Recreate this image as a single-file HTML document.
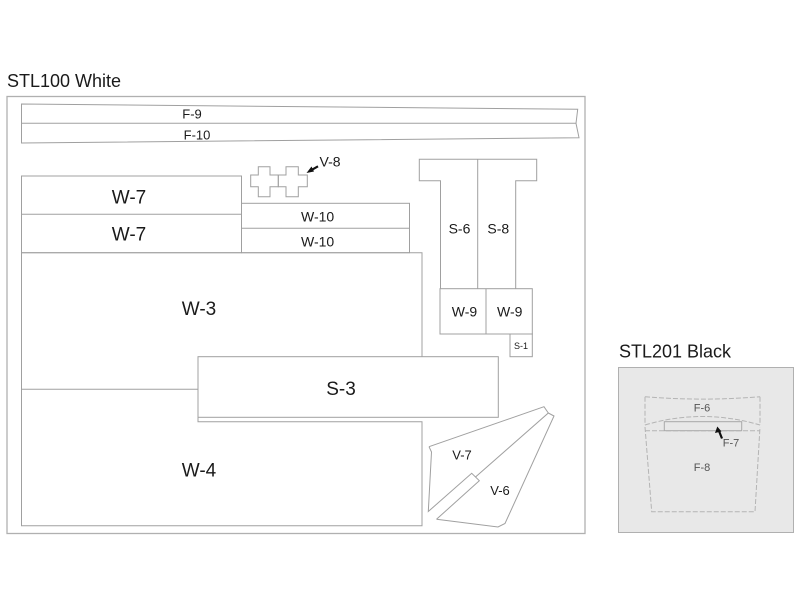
<!DOCTYPE html>
<html><head><meta charset="utf-8"><style>
html,body{margin:0;padding:0;background:#fff;}
svg{display:block;}
text{font-family:"Liberation Sans",Arial,sans-serif;fill:#1a1a1a;}
</style></head><body>
<svg width="804" height="603" viewBox="0 0 804 603" xmlns="http://www.w3.org/2000/svg">
<rect x="0" y="0" width="804" height="603" fill="#fff"/>
<text x="7" y="87" font-size="18">STL100 White</text>
<!-- outer border -->
<rect x="7" y="96.5" width="578" height="437" fill="none" stroke="#b0b0b0" stroke-width="1.3"/>
<g fill="none" stroke="#a0a0a0" stroke-width="1">
<!-- F-9 / F-10 strip -->
<path d="M21.5,104 L577.7,109.3 L576,123.3 L579,137.7 L21.5,143 Z"/>
<path d="M21.5,123.3 L576,123.3"/>
<!-- W-7 -->
<rect x="21.5" y="176" width="220" height="76.7"/>
<path d="M21.5,214.3 H241.5"/>
<!-- W-10 -->
<rect x="241.5" y="203.3" width="168" height="49.4"/>
<path d="M241.5,228.3 H409.5"/>
<!-- crosses V-8 -->
<path d="M258.3,166.7 H270 V175 H278.3 V186.7 H270 V196.7 H258.3 V186.7 H250.7 V175 H258.3 Z"/>
<path d="M286,166.7 H298.3 V175 H307.3 V186.7 H298.3 V196.7 H286 V186.7 H278.3 V175 H286 Z"/>
<!-- T shape S-6 / S-8 -->
<path d="M440.5,288.7 V180.7 H419.3 V159.3 H536.7 V180.7 H515.7 V288.7"/>
<path d="M477.7,159.3 V288.7"/>
<!-- W-9 -->
<rect x="440" y="288.7" width="92.3" height="45.3"/>
<path d="M486,288.7 V334"/>
<!-- S-1 -->
<rect x="510" y="334" width="22.3" height="22.7"/>
<!-- W-3 -->
<path d="M21.5,252.7 H422 V356.7"/>
<path d="M21.5,389.3 H198"/>
<!-- left edge W-3/W-4 -->
<path d="M21.5,252.7 V525.7 H422 V421.7 H198 V417.3"/>
<!-- S-3 -->
<rect x="198" y="356.7" width="300.3" height="60.6"/>
<!-- V-7 -->
<path d="M429,446.7 L544,406.7 L548.3,413 L475.5,477"/>
<path d="M429,446.7 L431.5,452 L428.3,511.5 L471.7,473.3 L479.3,480.7 L436.5,519.3"/>
<!-- V-6 -->
<path d="M548.3,413 L554,416 L505,523.5 L498,527 L436.5,519.3"/>
</g>
<!-- labels STL100 -->
<g text-anchor="middle">
<text x="192" y="118.5" font-size="13">F-9</text>
<text x="197" y="139.5" font-size="13">F-10</text>
<text x="129" y="203.5" font-size="19">W-7</text>
<text x="129" y="240.5" font-size="19">W-7</text>
<text x="317.6" y="221.5" font-size="14">W-10</text>
<text x="317.6" y="246.5" font-size="14">W-10</text>
<text x="459.5" y="233.5" font-size="14">S-6</text>
<text x="498.3" y="233.5" font-size="14">S-8</text>
<text x="464.5" y="316.5" font-size="14">W-9</text>
<text x="509.7" y="316.5" font-size="14">W-9</text>
<text x="521" y="349.2" font-size="9">S-1</text>
<text x="199" y="315" font-size="19">W-3</text>
<text x="341" y="395" font-size="19">S-3</text>
<text x="199" y="476.7" font-size="19">W-4</text>
<text x="462" y="459.5" font-size="13">V-7</text>
<text x="500" y="495.2" font-size="13">V-6</text>
</g>
<text x="319.5" y="166.5" font-size="14">V-8</text>
<!-- V-8 arrow -->
<line x1="318" y1="166.3" x2="311" y2="170.3" stroke="#111" stroke-width="2.2"/>
<polygon points="306.5,173 311.5,166.5 314,171.5" fill="#111"/>

<!-- STL201 Black -->
<text x="619" y="357.3" font-size="18">STL201 Black</text>
<rect x="618.5" y="367.5" width="175" height="165" fill="#e8e8e8" stroke="#b0b0b0" stroke-width="1"/>
<g fill="none" stroke="#b4b4b4" stroke-width="1" stroke-dasharray="5,2">
<path d="M645,396.7 Q702,401.5 760,396.7"/>
<path d="M645,396.7 V425"/>
<path d="M760,396.7 V425"/>
<path d="M645,425 Q702,408 760,425"/>
<path d="M645,427 L651.7,511.7 L755,511.7 L760,427"/>
<path d="M645,430.7 H760"/>
</g>
<rect x="664.3" y="421.7" width="77.4" height="9" fill="#e8e8e8" stroke="#a8a8a8" stroke-width="1"/>
<g text-anchor="middle" font-size="11">
<text x="702" y="411.5" style="fill:#555">F-6</text>
<text x="731" y="446.5" style="fill:#555">F-7</text>
<text x="702" y="471" style="fill:#555">F-8</text>
</g>
<!-- F-7 arrow -->
<line x1="722" y1="438.5" x2="719" y2="431" stroke="#111" stroke-width="2.2"/>
<polygon points="717.3,426.5 715,433 721.5,431.5" fill="#111"/>
</svg>
</body></html>
